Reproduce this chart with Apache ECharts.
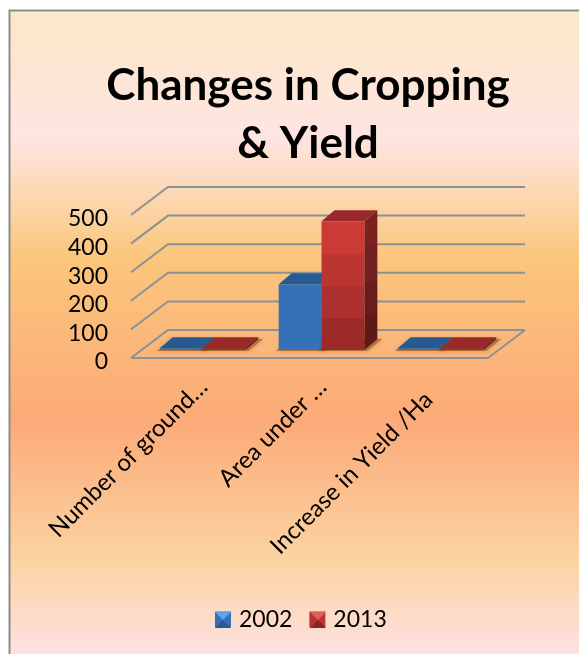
<!DOCTYPE html>
<html><head><meta charset="utf-8">
<style>html,body{margin:0;padding:0;background:#fff}#c{width:579px;height:654px}</style>
<script src="https://cdn.jsdelivr.net/npm/echarts@6/dist/echarts.min.js"></script>
</head><body><div id="c"></div>
<script>
const categories = ['Number of ground…', 'Area under …', 'Increase in Yield /Ha'];
const years = ['2002', '2013'];
const values2002 = [6, 230, 6];
const values2013 = [6, 450, 6];
const yTicks = [0, 100, 200, 300, 400, 500];

const chart = echarts.init(document.getElementById('c'), null, {renderer: 'canvas'});
const WALL = [37, -28], BAR = [13, -11], SHIFT = [12, -8];

function lg(stops) {
  return new echarts.graphic.LinearGradient(0, 0, 0, 1, stops.map(s => ({offset: s[0], color: s[1]})));
}
function bands(cols, h) {
  const step = 32 / Math.max(h, 1), out = [];
  let i = 0, pos = 1;
  while (pos > 0 && i < cols.length) {
    const next = Math.max(pos - step, 0);
    const top = i === cols.length - 1 ? 0 : next;
    out.unshift([top, cols[i]], [pos, cols[i]]);
    pos = top; i++;
  }
  return lg(out);
}
const palettes = [
  {front: ['#3670b6', '#3670b6', '#3670b6', '#3670b6'], side: ['#26548c', '#26548c', '#26548c', '#26548c'], top: '#285a92'},
  {front: ['#9c2a29', '#ac302e', '#bb3633', '#cc3a36'], side: ['#5e1a18', '#681c1b', '#722020', '#7a2220'], top: '#98282a'}
];
function barItem(si) {
  return function (params, api) {
    const idx = api.value(0), val = api.value(1);
    const w = api.size([1, 0])[0] * 0.36;
    const base = api.coord([idx, 0]), tip = api.coord([idx, val]);
    const x0 = base[0] + SHIFT[0] + (si === 0 ? -w : 0), x1 = x0 + w;
    const yb = base[1] + SHIFT[1], yt = tip[1] + SHIFT[1];
    const p = palettes[si], h = yb - yt;
    const poly = (pts, fill, extra) => ({type: 'polygon', shape: {points: pts}, style: Object.assign({fill: fill}, extra || {})});
    return {type: 'group', children: [
      poly([[x0 - 3, yb + 1], [x1 + 3, yb + 1], [x1 + BAR[0] + 5, yb + BAR[1]], [x0 + BAR[0], yb + BAR[1]]], 'rgba(110,60,10,0.45)', {shadowBlur: 5, shadowColor: 'rgba(110,60,10,0.6)'}),
      poly([[x1, yt], [x1 + BAR[0], yt + BAR[1]], [x1 + BAR[0], yb + BAR[1]], [x1, yb]], bands(p.side, h)),
      poly([[x0, yt], [x1, yt], [x1 + BAR[0], yt + BAR[1]], [x0 + BAR[0], yt + BAR[1]]], p.top),
      {type: 'rect', shape: {x: x0, y: yt, width: w, height: h, r: 1}, style: {fill: bands(p.front, h)}}
    ]};
  };
}
function wallItem(params, api) {
  const v = api.value(1), cs = params.coordSys;
  const y = api.coord([0, v])[1], l = cs.x, r = cs.x + cs.width;
  const style = {stroke: '#8b9296', lineWidth: 2, fill: null};
  const kids = [{type: 'polyline', shape: {points: [[l, y], [l + WALL[0], y + WALL[1]], [r + WALL[0], y + WALL[1]]]}, style}];
  if (v === 0) {
    kids.push({type: 'polyline', shape: {points: [[l, y], [r, y], [r + WALL[0], y + WALL[1]]]}, style});
  }
  return {type: 'group', children: kids};
}
const legendFill = ['#3670b6', '#b83532'];
const tri = (x, y, c) => ({type: 'polygon', z: 100, silent: true, shape: {points: [[x, y], [x + 16, y], [x + 8, y + 8]]}, style: {fill: c}});
const lowerEdge = (x, y, c) => ({type: 'polygon', z: 100, silent: true, shape: {points: [[x, y + 16], [x + 16, y + 16], [x + 8, y + 8]]}, style: {fill: c}});

chart.setOption({
  animation: false,
  graphic: [{
    type: 'rect', z: -10, silent: true,
    shape: {x: 9.5, y: 10.5, width: 620, height: 660},
    style: {
      stroke: '#8c8c8c', lineWidth: 2,
      fill: new echarts.graphic.LinearGradient(0, 0, 0, 1, [
        {offset: 0, color: '#fbe9c8'}, {offset: 0.09, color: '#fce6d2'}, {offset: 0.19, color: '#fee5e2'},
        {offset: 0.255, color: '#fcdcc0'}, {offset: 0.375, color: '#fbc67c'}, {offset: 0.62, color: '#fbaa78'},
        {offset: 0.83, color: '#fbd3a2'}, {offset: 0.97, color: '#fee0e0'}, {offset: 1, color: '#fee0e0'}
      ])
    }
  },
  tri(215, 612, '#5aa2ea'), lowerEdge(215, 612, '#2a5a94'),
  tri(310, 612, '#e2605c'), lowerEdge(310, 612, '#8c2626')],
  title: {
    text: 'Changes in Cropping\n& Yield', left: 303, top: 52, textAlign: 'center',
    textStyle: {fontFamily: 'Lato', fontWeight: 'bold', fontSize: 44, lineHeight: 58, color: '#000'}
  },
  legend: {
    data: years, left: 210, top: 603, icon: 'rect', itemWidth: 16, itemHeight: 16, itemGap: 17,
    textStyle: {fontFamily: 'Lato', fontSize: 23, color: '#000', padding: [0, 0, 0, 3]}
  },
  grid: [
    {left: 131, top: 215, width: 357, height: 143},
    {left: 144, top: 219, width: 357, height: 143}
  ],
  xAxis: [{
    type: 'category', data: categories, gridIndex: 0,
    axisLine: {show: false}, axisTick: {show: false}, splitLine: {show: false}, axisLabel: {show: false}
  }, {
    type: 'category', gridIndex: 1,
    data: categories.map((c, i) => i === 2 ? {value: c, textStyle: {padding: [0, 18, 0, 0]}} : c),
    axisLine: {show: false}, axisTick: {show: false}, splitLine: {show: false},
    axisLabel: {interval: 0, rotate: 45, margin: 21, fontFamily: 'Lato', fontSize: 24, color: '#000'}
  }],
  yAxis: [{
    type: 'value', min: 0, max: 500, interval: 100, gridIndex: 0, show: false
  }, {
    type: 'value', min: 0, max: 500, interval: 100, gridIndex: 1,
    axisLine: {show: false}, axisTick: {show: false}, splitLine: {show: false},
    axisLabel: {margin: 36, fontFamily: 'Lato', fontSize: 23, color: '#000'}
  }],
  series: [
    {type: 'custom', name: 'wall', silent: true, renderItem: wallItem, z: 1, clip: false,
      encode: {x: 0, y: 1}, data: yTicks.map(v => [0, v])},
    {type: 'custom', name: years[0], renderItem: barItem(0), z: 2, clip: false,
      itemStyle: {color: legendFill[0]}, encode: {x: 0, y: 1}, data: values2002.map((v, i) => [i, v])},
    {type: 'custom', name: years[1], renderItem: barItem(1), z: 3, clip: false,
      itemStyle: {color: legendFill[1]}, encode: {x: 0, y: 1}, data: values2013.map((v, i) => [i, v])}
  ]
});
</script></body></html>
